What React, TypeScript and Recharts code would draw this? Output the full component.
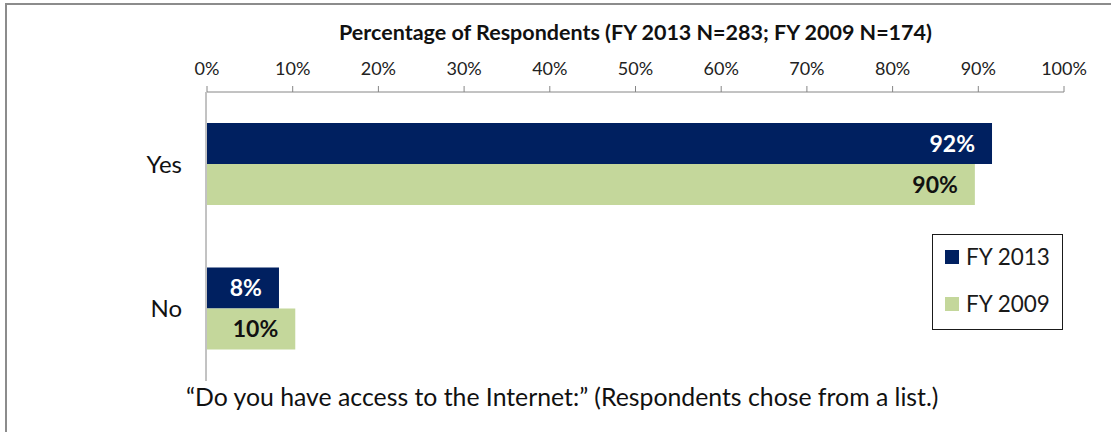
import React from 'react';
import { BarChart, Bar, XAxis, YAxis, LabelList, Legend } from 'recharts';

const categories = ['Yes', 'No'];
const fy2013 = [0.916, 0.084];
const fy2009 = [0.896, 0.103];
const seriesNames = ['FY 2013', 'FY 2009'];
const xTicks = [0, 0.1, 0.2, 0.3, 0.4, 0.5, 0.6, 0.7, 0.8, 0.9, 1];
const boundaryTicks = [0, 1, 2];
const titleText = 'Percentage of Respondents (FY 2013 N=283; FY 2009 N=174)';
const captionText = '\u201CDo you have access to the Internet:\u201D (Respondents chose from a list.)';

const data = categories.map((c, i) => ({ category: c, fy2013: fy2013[i], fy2009: fy2009[i] }));

const FONT = 'Lato, "Open Sans", sans-serif';
const NAVY = '#002060';
const GREEN = '#C4D79B';
const AXIS = '#868686';

const pct = (v: any) => `${Math.round(Number(v) * 100)}%`;

const LegendBox = (props: any) => {
  const payload = [...(props.payload || [])].sort(
    (a: any, b: any) => seriesNames.indexOf(a.value) - seriesNames.indexOf(b.value)
  );
  return (
    <div
      style={{
        width: 131,
        height: 96,
        boxSizing: 'border-box',
        border: '1.5px solid #1a1a1a',
        background: '#fff',
        paddingTop: 10,
        paddingLeft: 12,
        fontFamily: FONT,
      }}
    >
      {payload.map((p: any, i: number) => (
        <div key={i} style={{ display: 'flex', alignItems: 'center', height: 24, marginTop: i === 0 ? 0 : 23 }}>
          <div style={{ width: 14, height: 14, background: p.color, marginRight: 7 }} />
          <span style={{ fontSize: 22.5, color: '#1a1a1a', lineHeight: '24px' }}>{p.value}</span>
        </div>
      ))}
    </div>
  );
};

export default function App() {
  return (
    <div style={{ position: 'absolute', left: 0, top: 0, width: 1111, height: 432, background: '#fff', fontFamily: FONT, overflow: 'hidden' }}>
      <div
        style={{
          position: 'absolute',
          left: 5,
          top: 3,
          right: -10,
          bottom: -10,
          borderLeft: '2px solid #8c8c8c',
          borderTop: '2px solid #8c8c8c',
        }}
      />
      <div style={{ position: 'absolute', left: 0, top: 0 }}>
        <BarChart
          width={1111}
          height={432}
          data={data}
          layout="vertical"
          margin={{ top: 91, right: 47, bottom: 51, left: 205 }}
          barGap={0}
        >
          <XAxis
            type="number"
            orientation="top"
            domain={[0, 1]}
            ticks={xTicks}
            tickFormatter={pct}
            height={1}
            tickSize={6}
            tickMargin={11}
            stroke={AXIS}
            tick={{ fill: '#222', fontSize: 18, fontFamily: FONT }}
          />
          <YAxis
            type="category"
            dataKey="category"
            width={1}
            tickLine={false}
            axisLine={false}
            tickSize={0}
            tickMargin={25}
            tick={{ fill: '#111', fontSize: 24, fontFamily: FONT }}
          />
          <YAxis
            yAxisId="bounds"
            type="number"
            domain={[0, 2]}
            ticks={boundaryTicks}
            width={1}
            tickSize={8}
            tick={false}
            stroke={AXIS}
          />
          <Legend
            layout="horizontal"
            verticalAlign="middle"
            align="center"
            wrapperStyle={{ left: 932, top: 234, width: 131, height: 96 }}
            content={<LegendBox />}
          />
          <Bar dataKey="fy2013" name={seriesNames[0]} fill={NAVY} barSize={41} isAnimationActive={false}>
            <LabelList
              dataKey="fy2013"
              position="insideRight"
              offset={17}
              formatter={pct}
              fill="#fff"
              fontSize={23}
              fontWeight={700}
              fontFamily={FONT}
            />
          </Bar>
          <Bar dataKey="fy2009" name={seriesNames[1]} fill={GREEN} barSize={41} isAnimationActive={false}>
            <LabelList
              dataKey="fy2009"
              position="insideRight"
              offset={17}
              formatter={pct}
              fill="#111"
              fontSize={23}
              fontWeight={700}
              fontFamily={FONT}
            />
          </Bar>
        </BarChart>
      </div>
      <div
        style={{
          position: 'absolute',
          left: 207,
          width: 857,
          top: 19,
          textAlign: 'center',
          fontWeight: 700,
          fontSize: 21.5,
          lineHeight: '26px',
          color: '#111',
          whiteSpace: 'nowrap',
        }}
      >
        {titleText}
      </div>
      <div
        style={{
          position: 'absolute',
          left: 186,
          top: 383,
          fontSize: 24.8,
          lineHeight: '28px',
          color: '#111',
          whiteSpace: 'nowrap',
        }}
      >
        {captionText}
      </div>
    </div>
  );
}
